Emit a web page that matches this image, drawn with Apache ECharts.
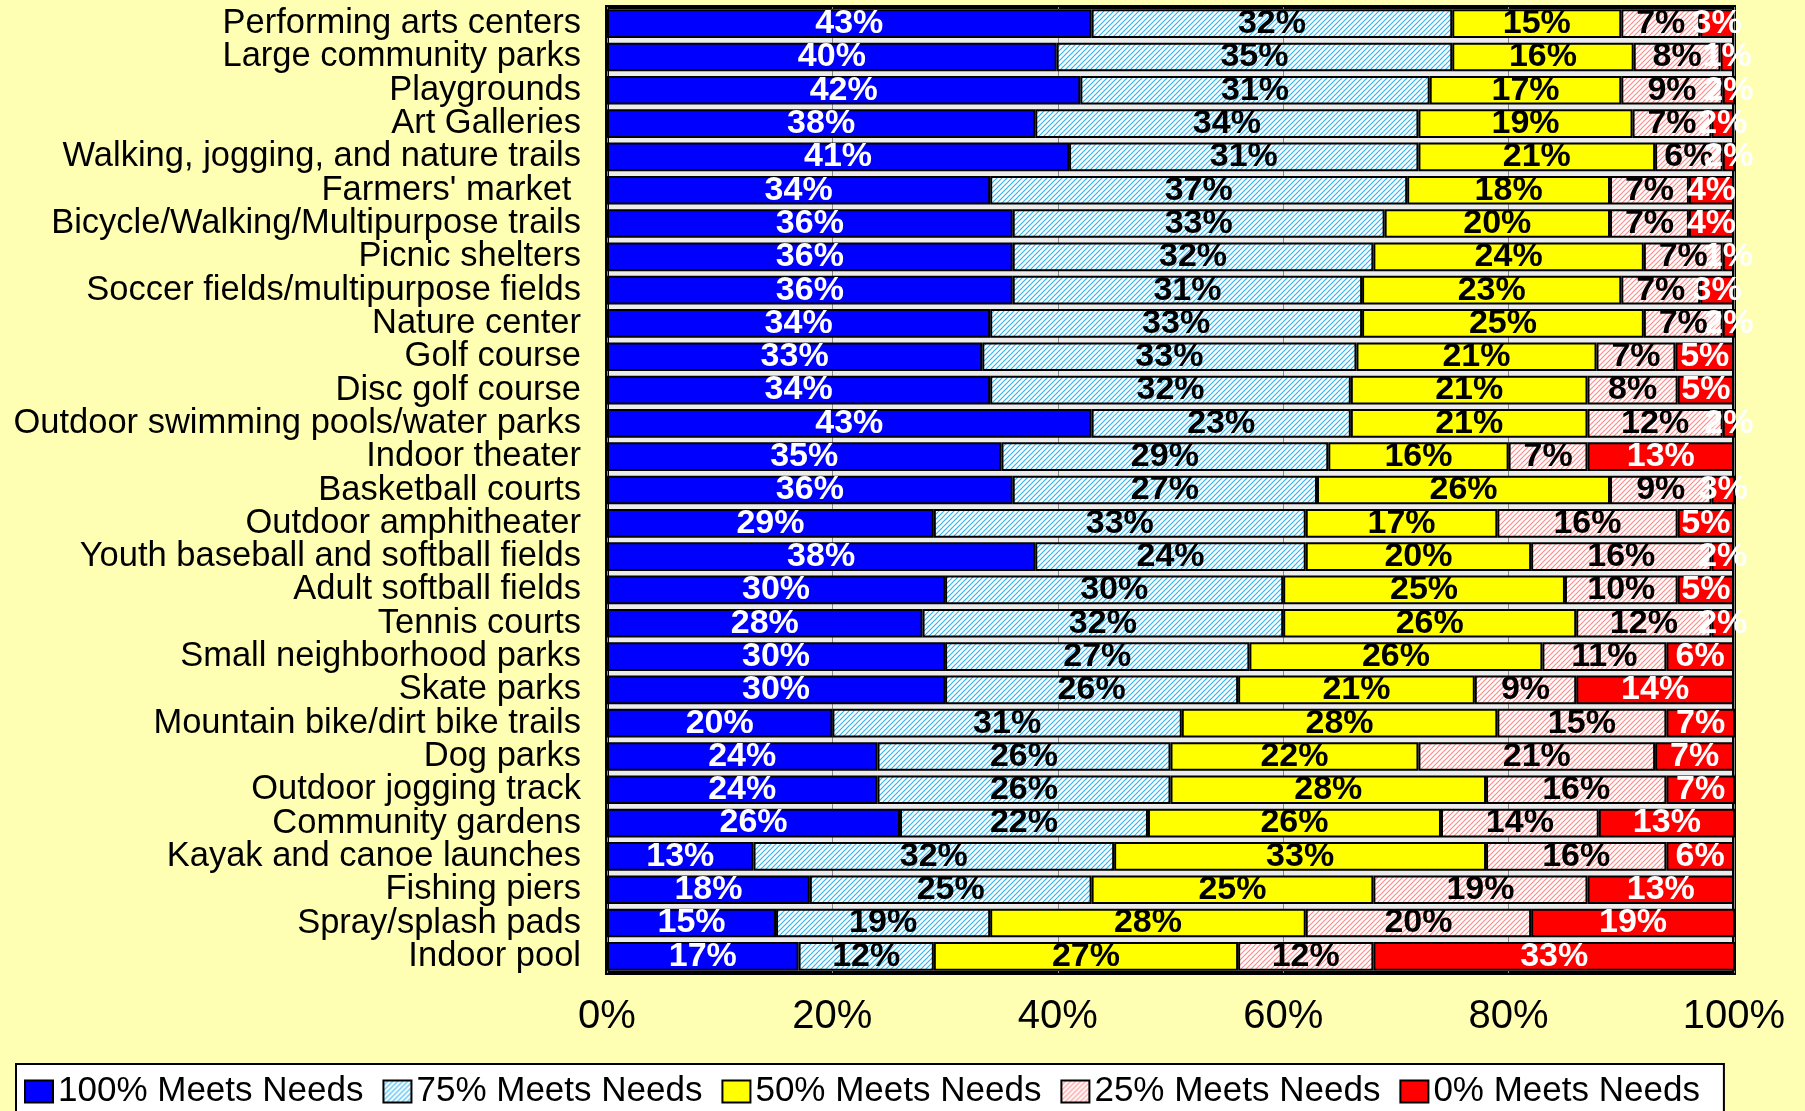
<!DOCTYPE html>
<html>
<head>
<meta charset="utf-8">
<title>Meets Needs</title>
<script src="https://cdn.jsdelivr.net/npm/echarts@6/dist/echarts.min.js"></script>
<style>
  html, body { margin: 0; padding: 0; background: #FFFFB4; }
  #main { width: 1805px; height: 1111px; }
</style>
</head>
<body>
<div id="main"></div>
<script>
// facilities, top to bottom
const facilities = [
  'Performing arts centers', 'Large community parks', 'Playgrounds', 'Art Galleries',
  'Walking, jogging, and nature trails', "Farmers' market ", 'Bicycle/Walking/Multipurpose trails',
  'Picnic shelters', 'Soccer fields/multipurpose fields', 'Nature center', 'Golf course',
  'Disc golf course', 'Outdoor swimming pools/water parks', 'Indoor theater', 'Basketball courts',
  'Outdoor amphitheater', 'Youth baseball and softball fields', 'Adult softball fields',
  'Tennis courts', 'Small neighborhood parks', 'Skate parks', 'Mountain bike/dirt bike trails',
  'Dog parks', 'Outdoor jogging track', 'Community gardens', 'Kayak and canoe launches',
  'Fishing piers', 'Spray/splash pads', 'Indoor pool'
];

// percent of respondents (labels are rounded)
const needs100 = [43, 39.9, 42, 38, 41, 34, 36, 36, 36, 34, 33.3, 34, 43, 35, 36, 29, 38, 30, 28, 30, 30, 20, 24, 24, 26, 13, 18, 15, 17];
const needs75  = [32, 35.1, 31, 34, 31, 37, 33, 32, 31, 33, 33.2, 32, 23, 29, 27, 33, 24, 30, 32, 27, 26, 31, 26, 26, 22, 32, 25, 19, 12];
const needs50  = [15, 16.1, 17, 19, 21, 18, 20, 24, 23, 25, 21.3, 21, 21, 16, 26, 17, 20, 25, 26, 26, 21, 28, 22, 28, 26, 33, 25, 28, 27];
const needs25  = [7, 7.7, 9, 7, 6, 7, 7, 7, 7, 7, 7.0, 8, 12, 7, 9, 16, 16, 10, 12, 11, 9, 15, 21, 16, 14, 16, 19, 20, 12];
const needs0   = [3, 1.2, 2, 2, 2, 4, 4, 1, 3, 2, 5.2, 5, 2, 13, 3, 5, 2, 5, 2, 6, 14, 7, 7, 7, 13, 6, 13, 19, 33];

const seriesNames = ['100% Meets Needs', '75% Meets Needs', '50% Meets Needs', '25% Meets Needs', '0% Meets Needs'];

// diagonal hatch fill
function hatch(lineColor) {
  const c = document.createElement('canvas');
  c.width = 5; c.height = 5;
  const ctx = c.getContext('2d');
  ctx.fillStyle = '#ffffff';
  ctx.fillRect(0, 0, 5, 5);
  ctx.strokeStyle = lineColor;
  ctx.lineWidth = 1.2;
  ctx.beginPath();
  ctx.moveTo(-1, 6); ctx.lineTo(6, -1);
  ctx.moveTo(-1, 1); ctx.lineTo(1, -1);
  ctx.moveTo(4, 6); ctx.lineTo(6, 4);
  ctx.stroke();
  return { image: c, repeat: 'repeat' };
}

const fills = ['#0000FF', hatch('#33B5F0'), '#FFFF00', hatch('#FF8C8C'), '#FF0000'];
const labelColors = ['#ffffff', '#000000', '#000000', '#000000', '#ffffff'];
const values = [needs100, needs75, needs50, needs25, needs0];

const font = "'Liberation Sans', Arial, Helvetica, sans-serif";

let myChart = echarts.init(document.getElementById('main'));
let option = {
  backgroundColor: '#FFFFB4',
  animation: false,
  textStyle: { fontFamily: font },
  grid: {
    left: 607,
    right: 71,
    top: 7,
    bottom: 138,
    show: true,
    backgroundColor: '#ececec',
    borderColor: '#000000',
    borderWidth: 4
  },
  legend: {
    left: 16,
    top: 1064,
    data: seriesNames,
    icon: 'rect',
    itemWidth: 28,
    itemHeight: 22,
    itemGap: 19,
    padding: [10, 24, 10, 8],
    backgroundColor: '#ffffff',
    borderColor: '#000000',
    borderWidth: 2,
    textStyle: { fontSize: 35, color: '#000000', fontFamily: font }
  },
  xAxis: {
    type: 'value',
    min: 0,
    max: 100,
    interval: 20,
    axisLine: { show: false },
    axisTick: { show: false },
    splitLine: { show: true, lineStyle: { color: '#888888', width: 1 } },
    axisLabel: {
      formatter: '{value}%',
      fontSize: 40,
      color: '#000000',
      margin: 24,
      fontFamily: font
    }
  },
  yAxis: {
    type: 'category',
    inverse: true,
    data: facilities,
    axisLine: { show: false },
    axisTick: { show: false },
    axisLabel: {
      interval: 0,
      fontSize: 34.5,
      color: '#000000',
      margin: 26,
      padding: [4, 0, 0, 0],
      fontFamily: font
    }
  },
  series: seriesNames.map((name, i) => ({
    name: name,
    type: 'bar',
    stack: 'total',
    barCategoryGap: '14%',
    data: values[i],
    itemStyle: {
      color: fills[i],
      borderColor: '#000000',
      borderWidth: 2
    },
    label: {
      show: true,
      position: 'inside',
      formatter: p => Math.round(p.value) + '%',
      fontSize: 34,
      fontWeight: 'bold',
      color: labelColors[i],
      fontFamily: font
    }
  }))
};

option && myChart.setOption(option);
</script>
</body>
</html>
